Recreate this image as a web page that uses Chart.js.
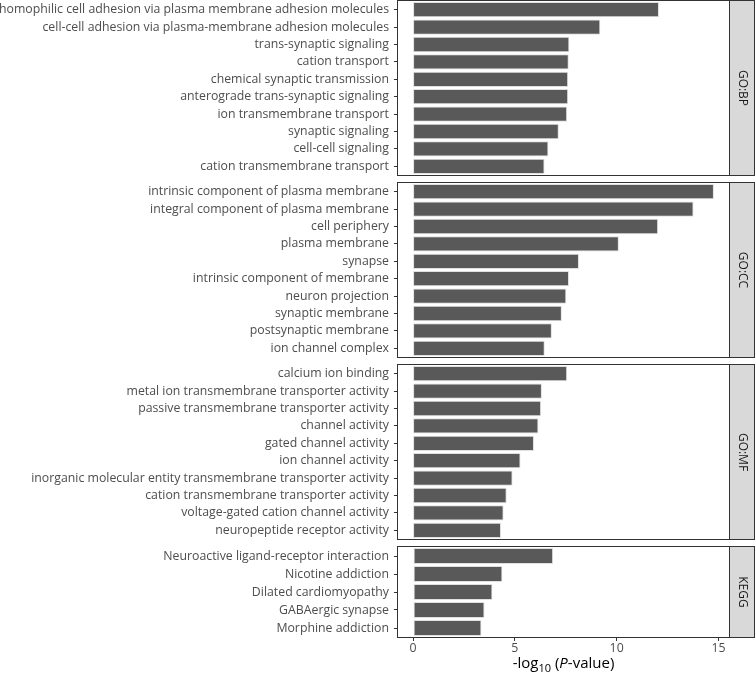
<!DOCTYPE html>
<html>
<head>
<meta charset="utf-8">
<script src="https://cdn.jsdelivr.net/npm/chart.js@4"></script>
<style>
  html, body { margin: 0; padding: 0; background: #fff; }
  #wrap { position: relative; width: 756px; height: 674px; }
  #wrap canvas { position: absolute; left: 0; }
</style>
</head>
<body>
<div id="wrap">
  <canvas id="bp" width="756" height="176" style="top:0px"></canvas>
  <canvas id="cc" width="756" height="176" style="top:182px"></canvas>
  <canvas id="mf" width="756" height="176" style="top:364px"></canvas>
  <canvas id="kegg" width="756" height="128" style="top:546px"></canvas>
</div>
<script>
// GO:BP
const bpLabels = [
    'homophilic cell adhesion via plasma membrane adhesion molecules',
    'cell-cell adhesion via plasma-membrane adhesion molecules',
    'trans-synaptic signaling',
    'cation transport',
    'chemical synaptic transmission',
    'anterograde trans-synaptic signaling',
    'ion transmembrane transport',
    'synaptic signaling',
    'cell-cell signaling',
    'cation transmembrane transport'
];
const bpValues = [12.08, 9.20, 7.68, 7.65, 7.62, 7.62, 7.57, 7.16, 6.65, 6.46];

// GO:CC
const ccLabels = [
    'intrinsic component of plasma membrane',
    'integral component of plasma membrane',
    'cell periphery',
    'plasma membrane',
    'synapse',
    'intrinsic component of membrane',
    'neuron projection',
    'synaptic membrane',
    'postsynaptic membrane',
    'ion channel complex'
];
const ccValues = [14.78, 13.78, 12.04, 10.11, 8.15, 7.66, 7.53, 7.31, 6.82, 6.47];

// GO:MF
const mfLabels = [
    'calcium ion binding',
    'metal ion transmembrane transporter activity',
    'passive transmembrane transporter activity',
    'channel activity',
    'gated channel activity',
    'ion channel activity',
    'inorganic molecular entity transmembrane transporter activity',
    'cation transmembrane transporter activity',
    'voltage-gated cation channel activity',
    'neuropeptide receptor activity'
];
const mfValues = [7.57, 6.33, 6.29, 6.16, 5.94, 5.28, 4.89, 4.60, 4.45, 4.32];

// KEGG
const keggLabels = [
    'Neuroactive ligand-receptor interaction',
    'Nicotine addiction',
    'Dilated cardiomyopathy',
    'GABAergic synapse',
    'Morphine addiction'
];
const keggValues = [6.88, 4.39, 3.90, 3.51, 3.36];

const xTicks = [0, 5, 10, 15];
const xMin = -0.74, xMax = 15.52;

const FONT = "'Open Sans', sans-serif";
const TEXT = '#4d4d4d';
const LINE = '#333333';

// panel border + strip on the right, like facet_grid
const panelPlugin = {
    id: 'panel',
    afterDraw(chart, args, opts) {
        const { ctx, chartArea: a } = chart;
        ctx.save();
        ctx.strokeStyle = LINE;
        ctx.lineWidth = 1;
        ctx.strokeRect(Math.round(a.left) - 0.5, Math.round(a.top) - 0.5,
            Math.round(a.right - a.left) + 1, Math.round(a.bottom - a.top) + 1);
        const sx = Math.round(a.right) + 0.5;
        ctx.fillStyle = '#d9d9d9';
        ctx.fillRect(sx, Math.round(a.top) - 0.5, 25, Math.round(a.bottom - a.top) + 1);
        ctx.strokeRect(sx, Math.round(a.top) - 0.5, 25, Math.round(a.bottom - a.top) + 1);
        ctx.translate(sx + 12.5, (a.top + a.bottom) / 2);
        ctx.rotate(Math.PI / 2);
        ctx.fillStyle = '#1a1a1a';
        ctx.font = '12px ' + FONT;
        ctx.textAlign = 'center';
        ctx.textBaseline = 'middle';
        ctx.fillText(opts.label, 0, 0);
        ctx.restore();

        if (opts.title) {
            // -log10 (P-value)
            const parts = [
                { t: '-log', f: '15px ' + FONT, dy: 0 },
                { t: '10', f: '11px ' + FONT, dy: 4 },
                { t: ' (', f: '15px ' + FONT, dy: 0 },
                { t: 'P', f: 'italic 15px ' + FONT, dy: 0 },
                { t: '-value)', f: '15px ' + FONT, dy: 0 }
            ];
            ctx.save();
            let w = 0;
            parts.forEach(p => { ctx.font = p.f; p.w = ctx.measureText(p.t).width; w += p.w; });
            let x = (a.left + a.right) / 2 - w / 2;
            const y = chart.height - 6;
            ctx.fillStyle = '#000';
            ctx.textBaseline = 'alphabetic';
            parts.forEach(p => { ctx.font = p.f; ctx.fillText(p.t, x, y + p.dy); x += p.w; });
            ctx.restore();
        }
    }
};

function makePanel(id, labels, values, strip, bottom) {
    const ctx = document.getElementById(id).getContext('2d');
    return new Chart(ctx, {
        type: 'bar',
        data: {
            labels: labels,
            datasets: [{
                data: values,
                backgroundColor: '#595959',
                borderColor: '#e0e0e0',
                borderWidth: 1,
                borderSkipped: false,
                barPercentage: 0.88,
                categoryPercentage: 1.0
            }]
        },
        options: {
            indexAxis: 'y',
            responsive: false,
            animation: false,
            layout: { padding: { top: 1, bottom: 1, right: 27, left: 0 } },
            plugins: {
                legend: { display: false },
                tooltip: { enabled: false },
                panel: { label: strip, title: bottom }
            },
            scales: {
                x: {
                    display: bottom,
                    min: xMin,
                    max: xMax,
                    afterBuildTicks: s => { s.ticks = xTicks.map(v => ({ value: v })); },
                    afterFit: s => { if (bottom) s.height = 36; s.paddingLeft = 0; s.paddingRight = 0; },
                    border: { display: false },
                    grid: { drawOnChartArea: false, drawTicks: true, tickLength: 4, color: LINE },
                    ticks: { font: { family: FONT, size: 12.3 }, color: TEXT, padding: 0, maxRotation: 0 }
                },
                y: {
                    offset: true,
                    afterFit: s => { s.width = 398; s.paddingTop = 0; s.paddingBottom = 0; },
                    border: { display: false },
                    grid: { offset: false, drawOnChartArea: false, drawTicks: true, tickLength: 4, color: LINE },
                    ticks: { font: { family: FONT, size: 12.3 }, color: TEXT, padding: 5, autoSkip: false }
                }
            }
        },
        plugins: [panelPlugin]
    });
}

makePanel('bp', bpLabels, bpValues, 'GO:BP', false);
makePanel('cc', ccLabels, ccValues, 'GO:CC', false);
makePanel('mf', mfLabels, mfValues, 'GO:MF', false);
makePanel('kegg', keggLabels, keggValues, 'KEGG', true);
</script>
</body>
</html>
